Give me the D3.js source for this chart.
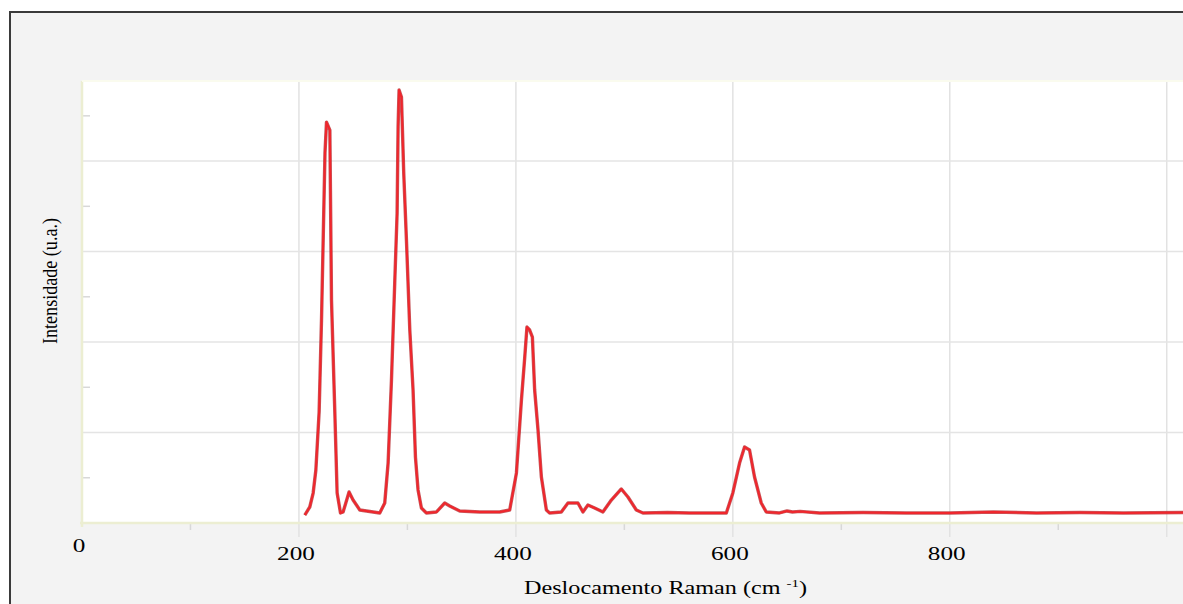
<!DOCTYPE html>
<html><head><meta charset="utf-8">
<script src="https://cdn.jsdelivr.net/npm/d3@7"></script>
<style>
html,body{margin:0;padding:0;background:#fff;}
svg{display:block;}
</style></head>
<body>
<svg id="c" width="1183" height="604"></svg>
<script>
// Raman shift (cm^-1) and intensity (a.u.)
const ramanShift = [205.4,210.0,213.1,215.6,218.6,220.8,224.0,225.4,228.5,230.0,233.1,235.2,238.3,240.7,243.2,246.2,249.9,256.1,274.5,279.1,282.2,285.3,288.3,290.5,291.4,292.3,294.5,296.6,299.1,302.2,305.2,307.4,309.8,312.9,317.5,326.8,334.4,339.0,348.2,366.7,385.0,394.3,400.5,405.1,408.1,410.2,412.7,415.2,417.3,420.4,423.5,428.1,431.1,441.9,448.0,457.2,461.8,466.4,472.6,480.2,488.0,497.2,503.3,511.0,517.1,540,560,594.0,600.0,606.2,610.8,615.4,620.0,626.2,630.8,643.0,650,655,662,680,720,760,800,840,880,920,960,1015];
const intensity  = [88,177,331,586,1227,2243,4089,4431,4343,2464,1216,332,111,122,221,343,254,144,111,221,663,1580,2652,3426,4376,4785,4707,3868,3127,2133,1470,729,365,166,111,122,221,188,133,122,122,144,553,1359,1823,2166,2133,2055,1470,1028,508,144,111,122,221,221,122,199,166,122,254,376,287,144,111,116,111,111,332,663,840,807,508,221,122,111,133,122,128,111,116,111,111,122,111,116,111,116];
const xTickValues = [0,200,400,600,800,1000];
const xTickLabels = ["0","200","400","600","800",""];
const xMinorTicks = [100,300,500,700,900];
const yGridValues = [1000,2000,3000,4000];
const yMinorTicks = [500,1500,2500,3500,4500];

const svg = d3.select("#c");
// outer frame
svg.append("rect").attr("x",10).attr("y",12).attr("width",1200).attr("height",620)
  .attr("fill","#f3f3f3").attr("stroke","#3a3a3a").attr("stroke-width",2);

const x = d3.scaleLinear().domain([0,1015]).range([82,1183]);
const y = d3.scaleLinear().domain([0,4885]).range([523,81]);

// plot area
svg.append("rect").attr("x",82).attr("y",81).attr("width",1183-82).attr("height",523-81).attr("fill","#fff");

// gridlines
svg.append("g").selectAll("line").data(xTickValues.slice(1)).join("line")
  .attr("x1",d=>x(d)).attr("x2",d=>x(d)).attr("y1",81).attr("y2",537)
  .attr("stroke","#e2e2e2").attr("stroke-width",1.5);
svg.append("g").selectAll("line").data(yGridValues).join("line")
  .attr("x1",82).attr("x2",1183).attr("y1",d=>y(d)).attr("y2",d=>y(d))
  .attr("stroke","#e4e4e4").attr("stroke-width",1.5);

// minor ticks
svg.append("g").selectAll("line").data(yMinorTicks).join("line")
  .attr("x1",82).attr("x2",90).attr("y1",d=>y(d)).attr("y2",d=>y(d))
  .attr("stroke","#d8d8d8").attr("stroke-width",1.5);
svg.append("g").selectAll("line").data(xMinorTicks).join("line")
  .attr("x1",d=>x(d)).attr("x2",d=>x(d)).attr("y1",523).attr("y2",530)
  .attr("stroke","#d8d8d8").attr("stroke-width",1.5);

// axis lines (pale yellow)
svg.append("line").attr("x1",82).attr("x2",82).attr("y1",81).attr("y2",527)
  .attr("stroke","#eceed2").attr("stroke-width",2.5);
svg.append("line").attr("x1",80).attr("x2",1183).attr("y1",523).attr("y2",523)
  .attr("stroke","#eceed2").attr("stroke-width",2.5);
svg.append("line").attr("x1",82).attr("x2",1183).attr("y1",81).attr("y2",81)
  .attr("stroke","#fafbee").attr("stroke-width",2);

// tick labels (wide serif digits)
svg.append("g").selectAll("text").data(xTickValues).join("text")
  .attr("x",d=>x(d)-3).attr("y",d=>d===0?552:560)
  .attr("text-anchor","middle")
  .attr("font-family","Liberation Serif, serif").attr("font-size",19)
  .attr("textLength",(d,i)=>xTickLabels[i].length*12.6)
  .attr("lengthAdjust","spacingAndGlyphs")
  .attr("fill","#000")
  .text((d,i)=>xTickLabels[i]);

// spectrum
const pts = ramanShift.map((v,i)=>[v,intensity[i]]);
const lineGen = d3.line().x(d=>x(d[0])).y(d=>y(d[1]));
svg.append("path").datum(pts).attr("d",lineGen)
  .attr("fill","none").attr("stroke","#b83035").attr("stroke-width",3.4).attr("stroke-linejoin","round").attr("opacity",0.8);
svg.append("path").datum(pts).attr("d",lineGen)
  .attr("fill","none").attr("stroke","#f0262c").attr("stroke-width",2).attr("stroke-linejoin","round");

// axis titles
const xt = svg.append("text").attr("x",524).attr("y",594).attr("text-anchor","start")
  .attr("font-family","Liberation Serif, serif").attr("font-size",18)
  .attr("textLength",283).attr("lengthAdjust","spacingAndGlyphs").attr("fill","#000");
xt.append("tspan").text("Deslocamento Raman (cm ");
xt.append("tspan").attr("font-size",11).attr("dy",-7).text("-1");
xt.append("tspan").attr("dy",7).text(")");

svg.append("text").attr("transform","translate(57,281) rotate(-90)").attr("text-anchor","middle")
  .attr("font-family","Liberation Serif, serif").attr("font-size",21)
  .attr("textLength",126).attr("lengthAdjust","spacingAndGlyphs").attr("fill","#000")
  .text("Intensidade (u.a.)");
</script>
</body></html>
